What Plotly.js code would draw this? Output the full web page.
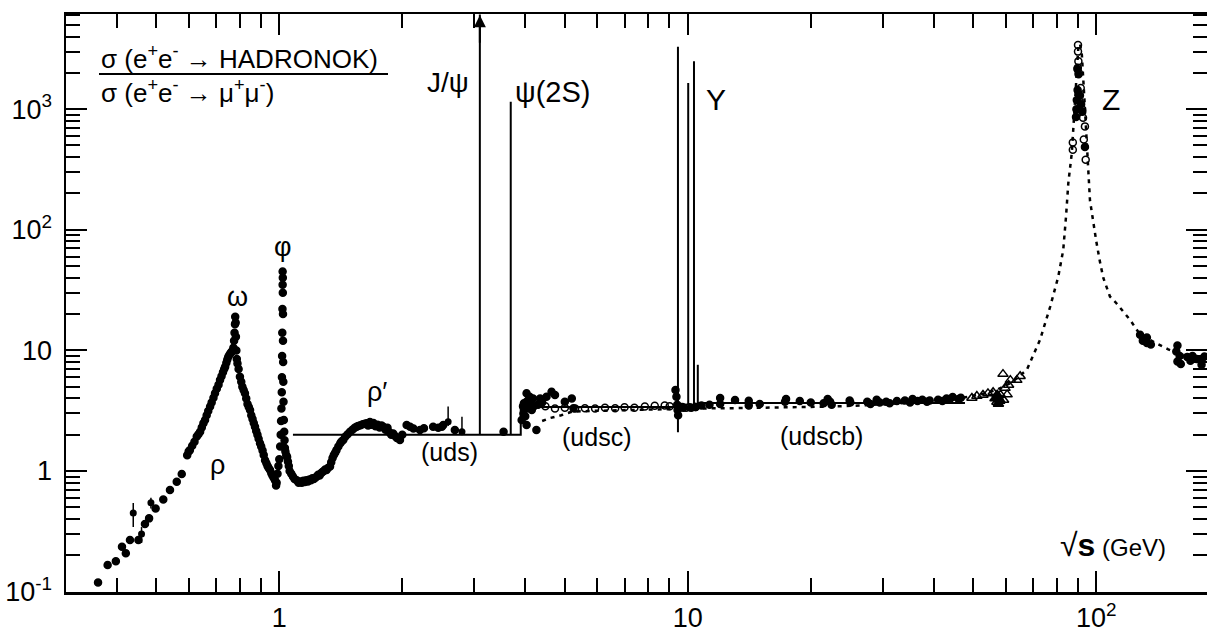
<!DOCTYPE html>
<html><head><meta charset="utf-8">
<script src="https://cdn.plot.ly/plotly-3.0.1.min.js"></script>
<style>html,body{margin:0;padding:0;background:#fff;overflow:hidden}#chart{width:1207px;height:633px}</style>
</head><body><div id="chart"></div>
<script>
// ---------- data (sqrt(s) in GeV, R = sigma(hadrons)/sigma(mu mu)) ----------
const rhoE = [0.360,0.380,0.398,0.412,0.421,0.431,0.452,0.469,0.480,0.498,0.520,0.540,0.561,0.577,0.595,0.600,0.604,0.612,0.620,0.628,0.634,0.640,0.646,0.652,0.658,0.664,0.670,0.677,0.683,0.690,0.696,0.703,0.710,0.716,0.722,0.728,0.733,0.737,0.742,0.746,0.750,0.755,0.760,0.764,0.768,0.772,0.775,0.777,0.779,0.780,0.782,0.783,0.785,0.787,0.790,0.795,0.801,0.807,0.812,0.818,0.824,0.830,0.836,0.842,0.848,0.854,0.860,0.866,0.872,0.878,0.884,0.890,0.897,0.903,0.910,0.916,0.923,0.930,0.936,0.942,0.949,0.956,0.962,0.969,0.976,0.982,0.985,0.990,0.995];
const rhoR = [0.119,0.166,0.179,0.236,0.208,0.268,0.268,0.364,0.405,0.49,0.58,0.695,0.815,0.944,1.35,1.45,1.49,1.62,1.75,1.93,2.02,2.12,2.3,2.49,2.65,2.9,3.15,3.42,3.7,4.05,4.41,4.8,5.2,5.68,6.1,6.6,7.0,7.33,7.9,8.4,8.87,9.2,9.5,9.73,9.9,10.5,12,14,16.5,19,17,13,10,8.5,7.8,7.0,6.06,5.5,5.0,4.7,4.41,4.0,3.6,3.4,3.2,2.9,2.7,2.5,2.33,2.15,2.0,1.85,1.70,1.6,1.48,1.36,1.23,1.16,1.10,1.06,1.02,0.96,0.92,0.88,0.84,0.76,0.80,0.95,1.1];
const phiE = [1.000,1.005,1.008,1.010,1.012,1.014,1.015,1.016,1.017,1.018,1.019,1.019,1.020,1.020,1.021,1.021,1.022,1.023,1.024,1.026,1.028,1.030,1.032,1.035,1.040,1.045,1.050,1.055,1.060,1.070,1.080,1.090,1.103,1.115,1.125,1.135,1.145,1.155,1.165,1.175,1.185,1.195,1.205,1.215,1.225,1.235,1.245,1.255,1.265,1.275,1.285,1.295,1.305,1.315,1.331,1.340,1.350,1.360,1.370,1.380,1.395,1.410,1.420,1.434,1.450,1.470,1.490,1.510,1.530,1.546,1.560,1.580,1.600,1.620,1.637,1.650,1.667,1.680,1.700,1.720,1.740,1.760,1.780,1.797,1.820,1.840,1.860,1.880,1.900,1.920,1.940,1.974,2.000,2.050,2.090,2.130,2.210,2.260,2.380,2.450,2.500,2.520,2.690];
const phiR = [1.25,1.6,2.0,2.6,3.3,4.5,6,9,14,22,35,45,40,30,20,12,8,5.5,3.75,2.65,2.12,1.8,1.55,1.45,1.35,1.31,1.2,1.1,1.0,0.95,0.9,0.86,0.84,0.80,0.82,0.80,0.83,0.81,0.84,0.82,0.85,0.84,0.87,0.86,0.88,0.90,0.93,0.92,0.96,0.98,1.0,1.03,1.02,1.06,1.09,1.18,1.28,1.36,1.42,1.49,1.6,1.7,1.76,1.81,1.92,2.02,2.12,2.2,2.28,2.33,2.36,2.4,2.44,2.46,2.49,2.38,2.55,2.42,2.5,2.35,2.42,2.3,2.38,2.33,2.2,2.28,2.1,2.0,2.05,1.95,1.88,1.81,2.0,2.41,2.33,2.25,2.19,2.26,2.33,2.28,2.33,2.41,2.19];
const errE = [0.439,0.460,0.485,2.59,2.80];
const errR = [0.449,0.300,0.546,2.56,2.12];
const errUp = [0.094,0.043,0.054,0.86,0.70];
const errDn = [0.106,0.047,0.056,0.20,0.06];
const charmE = [3.54,3.92,3.96,3.99,3.97,4.03,4.10,4.18,4.03,4.06,4.15,4.03,4.26,4.35,4.51,4.64,4.73,5.00,5.20,5.25,4.10,4.08,4.12,4.20,4.30,4.40,3.95,4.00,9.33,9.38,9.42,9.44,9.47,9.52,9.60,9.75,10.2,10.45];
const charmR = [2.12,2.65,3.0,3.31,3.64,4.41,4.13,4.0,3.76,3.31,3.2,2.41,2.19,4.0,4.13,4.54,4.27,3.76,4.0,3.31,3.52,3.9,3.6,3.45,3.55,3.7,3.45,2.85,4.69,4.13,3.55,3.2,2.9,3.35,3.4,3.35,3.35,3.4];
const openE = [4.48,4.73,5.00,5.30,5.60,5.93,6.27,6.64,7.00,7.40,7.85,8.30,8.78,9.03,9.70,9.90,10.1,10.45];
const openR = [3.45,3.30,3.35,3.30,3.32,3.30,3.35,3.32,3.38,3.35,3.42,3.48,3.50,3.45,3.40,3.35,3.38,3.40];
const bottomE = [10.8,11.3,12.0,12.0,13.05,14.1,14.1,15.0,17.3,17.4,18.8,20.0,21.5,22.0,22.3,22.5,24.9,25.0,27.5,28.0,29.0,29.5,30.6,31.2,32.5,34.0,35.0,35.5,36.5,37.5,38.5,39.1,41.0,42.0,43.0,43.8,44.5,46.0,46.6];
const bottomR = [3.5,3.55,4.03,3.6,3.88,3.83,3.5,3.6,3.75,3.95,3.8,3.7,3.65,3.95,3.75,3.55,3.85,3.7,3.75,3.6,3.9,3.7,3.75,3.65,3.8,3.85,3.7,3.95,3.8,3.9,3.75,3.85,3.9,3.8,4.0,3.95,4.1,3.95,4.05];
const triE = [49.6,51.0,52.8,54.3,55.9,57.1,58.3,59.3,59.8,59.1,61.0,61.6,63.9,65.1,57.5,58.0,60.5];
const triR = [4.03,4.18,4.27,4.40,4.50,3.73,4.27,3.88,4.87,6.36,5.16,5.67,5.67,6.10,4.10,3.80,4.30];
const triFullE = [56.5,57.2,58.0,57.6];
const triFullR = [4.0,4.3,3.9,3.6];
const zOpenE = [90.2,90.2,90.4,90.1,90.6,91.6,92.3,93.8,93.2,87.6,87.6,94.2,91.0,92.8];
const zOpenR = [3400,3000,2500,2200,2000,1500,1000,720,560,530,460,380,1150,850];
const zFullE = [89.9,90.5,90.0,89.6,91.8,89.4,92.4,89.2,93.8,91.2];
const zFullR = [2150,1950,1440,1190,1100,1000,950,860,485,1300];
const highE = [128,130,133,133,136,157,158,158,160,161,167,170,172,176,181,181,184];
const highR = [13.5,12.0,11.5,12.8,11.2,9.8,8.1,11.0,9.0,7.7,8.8,8.2,9.0,8.5,8.3,7.6,8.9];
// narrow resonances: position, peak, base
const resE = [3.097,3.686,9.46,10.023,10.355,10.58];
const resTop = [6100,1150,3300,1650,2500,7.6];
const resBase = [2.0,2.0,2.1,3.4,3.4,3.67];
// naive quark model steps (uds, udsc, udscb)
const qmE = [1.08,3.9,3.9,10.6,10.6,47.7];
const qmR = [2.0,2.0,3.4,3.4,3.67,3.67];
// QCD + Z curve
const curveE = [4.4,4.6,4.9,5.2,5.8,7,8.5,9.4,10.5,13,17,22,27,32,37,42,47,52,57,62,67.6,72.8,77.1,80.7,83,84.3,85.4,87.1,88.7,89.7,90.4,91.2,92.2,93.3,94.3,95.5,96.5,98,100,102,104,108,112,121,128,140,150,160,172,185];
const curveR = [2.6,2.75,2.9,3.1,3.15,3.2,3.25,3.28,3.3,3.32,3.36,3.42,3.5,3.6,3.72,3.88,4.05,4.3,4.7,5.4,6.9,12.2,23,40.8,68,128,243,433,1190,2300,3300,3500,2800,1400,800,330,175,120,80,55,40,28,24.6,17.9,13.5,11.5,10.2,9.4,8.7,8.2];
const xTickVals = [1,10,100];
const xTickText = ['1','10','10<sup>2</sup>'];
const yTickVals = [0.1,1,10,100,1000];
const yTickText = ['10<sup>-1</sup>','1','10','10<sup>2</sup>','10<sup>3</sup>'];

// ---------- build ----------
const spikeX = [], spikeY = [];
resE.forEach((e,i)=>{ spikeX.push(e,e,null); spikeY.push(resBase[i],resTop[i],null); });
function minorVals(lo,hi){ const v=[]; for(let p=lo;p<=hi;p++){ for(let k=2;k<=9;k++) v.push(k*Math.pow(10,p)); } return v; }
const FONT = 'Liberation Sans, Arial, Helvetica, sans-serif';
const dot = (x,y,sym,size)=>({type:'scatter',mode:'markers',x:x,y:y,hoverinfo:'skip',
  marker:{symbol:sym,size:size,color:'#000',line:{color:'#000',width:1.5}}});
const traces = [
  {type:'scatter',mode:'lines',x:qmE,y:qmR,line:{color:'#000',width:2},hoverinfo:'skip'},
  {type:'scatter',mode:'lines',x:curveE,y:curveR,line:{color:'#000',width:2.5,dash:'4px,5px'},hoverinfo:'skip'},
  {type:'scatter',mode:'lines',x:spikeX,y:spikeY,line:{color:'#000',width:2},connectgaps:false,hoverinfo:'skip'},
  dot(rhoE,rhoR,'circle',7),
  dot(phiE,phiR,'circle',7),
  dot(charmE,charmR,'circle',7),
  dot(bottomE,bottomR,'circle',7),
  dot(highE,highR,'circle',7),
  dot(zFullE,zFullR,'circle',7),
  dot(openE,openR,'circle-open',7),
  dot(zOpenE,zOpenR,'circle-open',7),
  dot(triE,triR,'triangle-up-open',9),
  dot(triFullE,triFullR,'triangle-up',9),
  {type:'scatter',mode:'markers',x:errE,y:errR,hoverinfo:'skip',
   marker:{symbol:'circle',size:7,color:'#000'},
   error_y:{type:'data',symmetric:false,array:errUp,arrayminus:errDn,color:'#000',thickness:1.5,width:0}}
];
const W = 1207, H = 633, L = 66, R0 = 0, T = 14, B = 41;
const px = x => (x-L)/(W-L-R0);
const py = y => (H-B-y)/(H-B-T);
const lab = (text,x,y,size,xanchor)=>({text:text,xref:'paper',yref:'paper',x:px(x),y:py(y),
  xanchor:xanchor||'center',yanchor:'middle',showarrow:false,font:{family:FONT,size:size||25,color:'#000'}});
const annotations = [
  lab('σ (e<sup>+</sup>e<sup>-</sup> → HADRONOK)',99,58,26,'left'),
  lab('σ (e<sup>+</sup>e<sup>-</sup> → μ<sup>+</sup>μ<sup>-</sup>)',99,92,26,'left'),
  lab('J/ψ',471,82,28,'right'),
  lab('ψ(2S)',513,92,29,'left'),
  lab('Y',716,100,30),
  lab('Z',1111,99,30),
  lab('ω',238,297,27),
  lab('φ',283,247,27),
  lab('ρ',217,465,27),
  lab('ρ′',377,392,27),
  lab('(uds)',449,452,25),
  lab('(udsc)',596,437,25),
  lab('(udscb)',822,436,25),
  lab('<span style="font-size:32px">√<b>s</b></span> (GeV)',1113,545,24),
  {x:Math.log10(resE[0]),y:Math.log10(6150)-0.01,ax:Math.log10(resE[0]),ay:Math.log10(6150)-0.25,
   xref:'x',yref:'y',axref:'x',ayref:'y',text:'',showarrow:true,arrowhead:2,arrowsize:1.2,arrowwidth:2,arrowcolor:'#000'}
];
const shapes = [{type:'line',xref:'paper',yref:'paper',x0:px(99),x1:px(388),y0:py(74),y1:py(74),line:{color:'#000',width:2}}];
const axisCommon = {type:'log',showgrid:false,zeroline:false,showline:true,linecolor:'#000',linewidth:2.5,
  mirror:'ticks',ticks:'inside',ticklen:21,tickwidth:2,tickcolor:'#000',tickmode:'array',
  tickfont:{family:FONT,size:27,color:'#000'}};
const layout = {
  width:W,height:H,margin:{l:L,r:R0,t:T,b:B},paper_bgcolor:'#fff',plot_bgcolor:'#fff',showlegend:false,
  xaxis:Object.assign({},axisCommon,{range:[Math.log10(0.3005),2.271],tickvals:xTickVals,ticktext:xTickText,ticklabelstandoff:0,
    minor:{tickmode:'array',tickvals:minorVals(-1,2),ticks:'inside',ticklen:14,tickwidth:2,tickcolor:'#000',showgrid:false}}),
  yaxis:Object.assign({},axisCommon,{range:[-1.003,3.789],tickvals:yTickVals,ticktext:yTickText,ticklabelstandoff:6,
    minor:{tickmode:'array',tickvals:minorVals(-1,3),ticks:'inside',ticklen:14,tickwidth:2,tickcolor:'#000',showgrid:false}}),
  annotations:annotations,shapes:shapes
};
Plotly.newPlot('chart',traces,layout,{staticPlot:true,displayModeBar:false});
</script></body></html>
